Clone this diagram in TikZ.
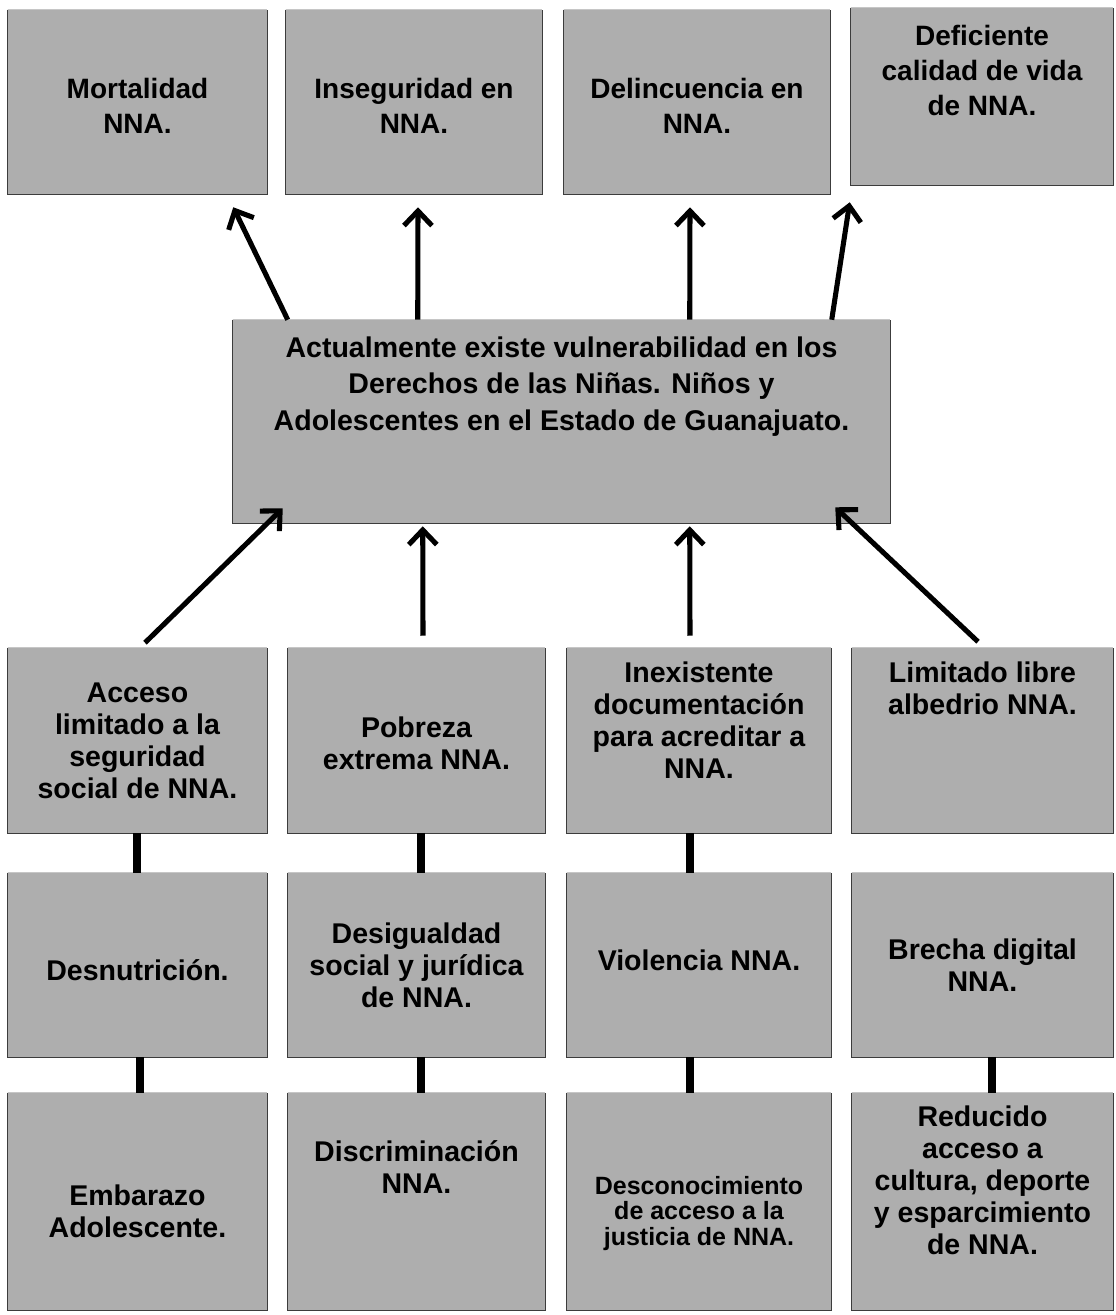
\documentclass[tikz,border=0pt]{standalone}
\usepackage{fontspec}
\setmainfont{Liberation Sans}
\usetikzlibrary{arrows.meta,calc}
\definecolor{boxgray}{RGB}{174,174,174}
\definecolor{edgegray}{RGB}{60,60,60}
\begin{document}
\begin{tikzpicture}[x=0.75pt,y=-0.75pt,
  bx/.style 2 args={fill=boxgray, draw=none, inner sep=0pt,
    minimum width=#1*0.75pt, minimum height=#2*0.75pt},
  txt/.style={align=center, inner sep=0pt, font=\bfseries\fontsize{21}{26}\selectfont},
  ctxt/.style={align=center, inner sep=0pt, font=\bfseries\fontsize{21.4}{27.5}\selectfont},
  mtxt/.style={align=center, inner sep=0pt, font=\bfseries\fontsize{21.4}{24}\selectfont},
  stxt/.style={align=center, inner sep=0pt, font=\bfseries\fontsize{18.75}{19}\selectfont},
  edge/.style={draw=edgegray, line width=1pt},
  topedge/.style={draw=gray!45, line width=0.8pt},
  arr/.style={line width=3.8pt, -{Straight Barb[length=11pt,width=21pt]}},
  bar/.style={line width=6pt}]
\fill[white] (0,0) rectangle (1115,1315);
\useasboundingbox (0,0) rectangle (1115,1315);

% top row (effects)
\node[bx={259}{184}] (t1) at (137.5,102) {};
\node[bx={256}{184}] (t2) at (414,102) {};
\node[bx={266}{184}] (t3) at (697,102) {};
\node[bx={262}{177}] (t4) at (982,96.5) {};
% central problem
\node[bx={657}{203}] (c) at (561.5,421.5) {};
% row 2 (causes)
\node[bx={259}{185}] (a1) at (137.5,740.5) {};
\node[bx={257}{185}] (a2) at (416.5,740.5) {};
\node[bx={264}{185}] (a3) at (699,740.5) {};
\node[bx={261}{185}] (a4) at (982.5,740.5) {};
% row 3
\node[bx={259}{184}] (b1) at (137.5,965) {};
\node[bx={257}{184}] (b2) at (416.5,965) {};
\node[bx={264}{184}] (b3) at (699,965) {};
\node[bx={261}{184}] (b4) at (982.5,965) {};
% row 4
\node[bx={259}{217}] (d1) at (137.5,1201.5) {};
\node[bx={257}{217}] (d2) at (416.5,1201.5) {};
\node[bx={264}{217}] (d3) at (699,1201.5) {};
\node[bx={261}{217}] (d4) at (982.5,1201.5) {};

\foreach \n in {t1,t2,t3,t4,c,a1,a2,a3,a4,b1,b2,b3,b4,d1,d2,d3,d4}{
  \draw[edge] (\n.north west) -- (\n.south west) -- (\n.south east) -- (\n.north east);
  \draw[topedge] (\n.north west) -- (\n.north east);
}

% texts
\node[txt] (t1t) at ($(t1.center)+(0,4)$) {Mortalidad\\NNA.};
\node[txt] (t2t) at ($(t2.center)+(0,4)$) {Inseguridad en\\NNA.};
\node[txt] (t3t) at ($(t3.center)+(0,4)$) {Delincuencia en\\NNA.};
\node[txt] (t4t) at ($(t4.center)+(0,-26)$) {Deficiente\\calidad de vida\\de NNA.};
\node[ctxt] (ct) at ($(c.center)+(0,-35)$) {Actualmente existe vulnerabilidad en los\\Derechos de las Niñas. Niños y\\Adolescentes en el Estado de Guanajuato.};
\node[mtxt] (a1t) at ($(a1.center)+(0,0)$) {Acceso\\limitado a la\\seguridad\\social de NNA.};
\node[mtxt] (a2t) at ($(a2.center)+(0,3)$) {Pobreza\\extrema NNA.};
\node[mtxt] (a3t) at ($(a3.center)+(0,-20)$) {Inexistente\\documentación\\para acreditar a\\NNA.};
\node[mtxt] (a4t) at ($(a4.center)+(0,-52)$) {Limitado libre\\albedrio NNA.};
\node[mtxt] (b1t) at ($(b1.center)+(0,5)$) {Desnutrición.};
\node[mtxt] (b2t) at ($(b2.center)+(0,0)$) {Desigualdad\\social y jurídica\\de NNA.};
\node[mtxt] (b3t) at ($(b3.center)+(0,-5)$) {Violencia NNA.};
\node[mtxt] (b4t) at ($(b4.center)+(0,0)$) {Brecha digital\\NNA.};
\node[mtxt] (d1t) at ($(d1.center)+(0,10)$) {Embarazo\\Adolescente.};
\node[mtxt] (d2t) at ($(d2.center)+(0,-34)$) {Discriminación\\NNA.};
\node[stxt] (d3t) at ($(d3.center)+(0,12)$) {Desconocimiento\\de acceso a la\\justicia de NNA.};
\node[mtxt] (d4t) at ($(d4.center)+(0,-21)$) {Reducido\\acceso a\\cultura, deporte\\y esparcimiento\\de NNA.};

% arrows from central problem to effects
\draw[arr] ($(c.north west)+(55,0)$) -- ($(t1.south east)+(-34,13)$);
\draw[arr] ($(c.north west)+(185,0)$) -- ($(t2.south)+(4,13)$);
\draw[arr] ($(c.north west)+(457,0)$) -- ($(t3.south)+(-7,13)$);
\draw[arr] ($(c.north west)+(599,0)$) -- ($(t4.south west)+(-1,17)$);
% arrows from causes to central problem
\draw[arr] ($(a1.north)+(7.5,-5)$) -- ($(c.south west)+(50,-15)$);
\draw[arr] ($(a2.north)+(6.5,-12)$) -- ($(c.south west)+(190,3)$);
\draw[arr] ($(a3.north)+(-9,-12)$) -- ($(c.south west)+(457,3)$);
\draw[arr] ($(a4.north)+(-4.5,-6)$) -- ($(c.south east)+(-55,-16)$);

% thick bars between stacked boxes
\draw[bar] ($(a1.south)+(-0.5,0)$) -- ($(b1.north)+(-0.5,0)$);
\draw[bar] ($(a2.south)+(4.5,0)$) -- ($(b2.north)+(4.5,0)$);
\draw[bar] ($(a3.south)+(-9,0)$) -- ($(b3.north)+(-9,0)$);
\draw[bar] ($(b1.south)+(2.5,0)$) -- ($(d1.north)+(2.5,0)$);
\draw[bar] ($(b2.south)+(4.5,0)$) -- ($(d2.north)+(4.5,0)$);
\draw[bar] ($(b3.south)+(-9,0)$) -- ($(d3.north)+(-9,0)$);
\draw[bar] ($(b4.south)+(9.5,0)$) -- ($(d4.north)+(9.5,0)$);
\end{tikzpicture}
\end{document}
